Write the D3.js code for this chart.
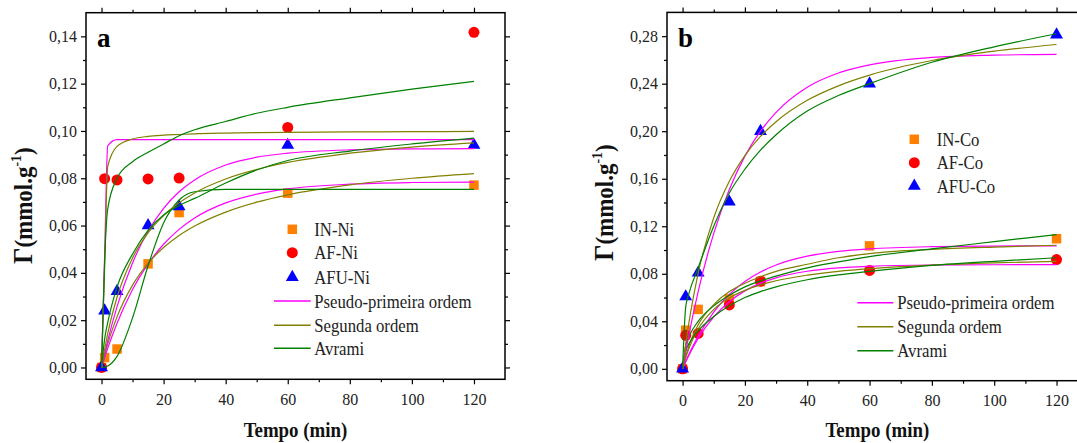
<!DOCTYPE html>
<html>
<head>
<meta charset="utf-8">
<script src="https://cdn.jsdelivr.net/npm/d3@7"></script>
<style>body { margin: 0; background: #fff; }</style>
</head>
<body>
<div id="chart"></div>
<script>
// measured points (Tempo in min, q in mmol/g)
var tData = [0, 1, 5, 15, 25, 60, 120];
var inNi  = [0, 0.0042, 0.0078, 0.0438, 0.0655, 0.0737, 0.0771];
var afNi  = [0, 0.0798, 0.0793, 0.0797, 0.0801, 0.1015, 0.1417];
var afuNi = [0, 0.0240, 0.0322, 0.0600, 0.0680, 0.0940, 0.0940];
var inCo  = [0, 0.0325, 0.0500, 0.0588, 0.0735, 0.1035, 0.1095];
var afCo  = [0, 0.0282, 0.0298, 0.0538, 0.0738, 0.0828, 0.0920];
var afuCo = [0, 0.0608, 0.0808, 0.1405, 0.2000, 0.2400, 0.2812];

// fitted curves at these times
var tFit = [0, 1, 2, 5, 10, 15, 20, 25, 30, 40, 50, 60, 80, 100, 120];
var pfoInNi  = [0, 0.0041, 0.0081, 0.0187, 0.0330, 0.0438, 0.0521, 0.0584, 0.0632, 0.0696, 0.0733, 0.0755, 0.0775, 0.0782, 0.0784];
var psoInNi  = [0, 0.0051, 0.0099, 0.0214, 0.0348, 0.0440, 0.0507, 0.0558, 0.0598, 0.0657, 0.0699, 0.0730, 0.0772, 0.0800, 0.0820];
var avrInNi  = [0, 0.0001, 0.0006, 0.0047, 0.0210, 0.0430, 0.0611, 0.0708, 0.0743, 0.0753, 0.0753, 0.0753, 0.0753, 0.0753, 0.0753];
var pfoAfNi  = [0, 0.0470, 0.0937, 0.0963, 0.0963, 0.0963, 0.0963, 0.0963, 0.0963, 0.0963, 0.0963, 0.0963, 0.0963, 0.0963, 0.0963];
var psoAfNi  = [0, 0.0425, 0.0850, 0.0935, 0.0966, 0.0977, 0.0982, 0.0985, 0.0988, 0.0991, 0.0993, 0.0994, 0.0996, 0.0997, 0.0998];
var avrAfNi  = [0, 0.0450, 0.0670, 0.0800, 0.0870, 0.0910, 0.0945, 0.0980, 0.1005, 0.1040, 0.1075, 0.1100, 0.1140, 0.1177, 0.1210];
var pfoAfuNi = [0, 0.0058, 0.0113, 0.0257, 0.0442, 0.0576, 0.0673, 0.0743, 0.0793, 0.0856, 0.0889, 0.0906, 0.0920, 0.0924, 0.0925];
var psoAfuNi = [0, 0.0076, 0.0143, 0.0297, 0.0463, 0.0569, 0.0642, 0.0696, 0.0738, 0.0797, 0.0837, 0.0867, 0.0906, 0.0932, 0.0950];
var avrAfuNi = [0, 0.0120, 0.0190, 0.0340, 0.0480, 0.0580, 0.0645, 0.0685, 0.0715, 0.0780, 0.0835, 0.0875, 0.0915, 0.0945, 0.0970];

var pfoInCo  = [0, 0.0062, 0.0121, 0.0276, 0.0478, 0.0627, 0.0735, 0.0815, 0.0874, 0.0948, 0.0988, 0.1010, 0.1028, 0.1033, 0.1035];
var psoInCo  = [0, 0.0100, 0.0190, 0.0370, 0.0540, 0.0650, 0.0720, 0.0775, 0.0820, 0.0880, 0.0935, 0.0970, 0.1005, 0.1025, 0.1040];
var avrInCo  = [0, 0.0200, 0.0270, 0.0400, 0.0530, 0.0620, 0.0690, 0.0740, 0.0780, 0.0850, 0.0900, 0.0945, 0.1010, 0.1070, 0.1130];
var pfoAfCo  = [0, 0.0058, 0.0113, 0.0256, 0.0437, 0.0565, 0.0656, 0.0721, 0.0766, 0.0821, 0.0849, 0.0863, 0.0874, 0.0876, 0.0877];
var psoAfCo  = [0, 0.0092, 0.0168, 0.0335, 0.0499, 0.0596, 0.0660, 0.0706, 0.0741, 0.0788, 0.0820, 0.0843, 0.0873, 0.0892, 0.0905];
var avrAfCo  = [0, 0.0150, 0.0210, 0.0320, 0.0440, 0.0530, 0.0600, 0.0650, 0.0690, 0.0750, 0.0790, 0.0820, 0.0870, 0.0905, 0.0935];
var pfoAfuCo = [0, 0.0145, 0.0282, 0.0650, 0.1140, 0.1510, 0.1790, 0.2000, 0.2159, 0.2370, 0.2490, 0.2559, 0.2621, 0.2640, 0.2647];
var psoAfuCo = [0, 0.0204, 0.0382, 0.0804, 0.1272, 0.1579, 0.1795, 0.1956, 0.2080, 0.2260, 0.2382, 0.2472, 0.2595, 0.2674, 0.2730];
var avrAfuCo = [0, 0.0520, 0.0630, 0.0850, 0.1200, 0.1480, 0.1680, 0.1840, 0.1970, 0.2170, 0.2300, 0.2400, 0.2580, 0.2710, 0.2820];

// axis ticks
var xTicks = [0, 20, 40, 60, 80, 100, 120];
var xMinor = [10, 30, 50, 70, 90, 110];
var yTicksA = [0, 0.02, 0.04, 0.06, 0.08, 0.10, 0.12, 0.14];
var yMinorA = [0.01, 0.03, 0.05, 0.07, 0.09, 0.11, 0.13];
var yTicksB = [0, 0.04, 0.08, 0.12, 0.16, 0.20, 0.24, 0.28];
var yMinorB = [0.02, 0.06, 0.10, 0.14, 0.18, 0.22, 0.26];

var fitNames = ["Pseudo-primeira ordem", "Segunda ordem", "Avrami"];
var fitColors = ["#ff00ff", "#808000", "#008000"];

var w = 1077,
    h = 443,
    font = "Liberation Serif",
    svg = d3.select("#chart")
            .append("svg")
            .attr("width", w)
            .attr("height", h);

var fmt = function(d) { return d3.format(".2f")(d).replace(".", ","); };

var symbols = [
    {type: d3.symbolSquare, size: 90, color: "#ff8000"},
    {type: d3.symbolCircle, size: 95, color: "#ff0000"},
    {type: d3.symbolTriangle, size: 72, color: "#0000ff"}
];

render_panel({
    left: 86, right: 505, top: 12.7, bottom: 379.3,
    yDomain: [-0.005, 0.15], yTicks: yTicksA, yMinor: yMinorA,
    letter: "a", labelX: 32, labelY: 264, titleY: 437,
    names: ["IN-Ni", "AF-Ni", "AFU-Ni"],
    data: [inNi, afNi, afuNi],
    fits: [[pfoInNi, psoInNi, avrInNi], [pfoAfNi, psoAfNi, avrAfNi], [pfoAfuNi, psoAfuNi, avrAfuNi]],
    legMarkX: 292.3, legMarkY: [229.3, 252.7, 277.3], legTextX: 314.3,
    legLineX: [274, 310.7], legLineY: [301, 325.3, 348.3], legLineTextX: 314.3
});

render_panel({
    left: 667, right: 1087.7, top: 12.4, bottom: 380.7,
    yDomain: [-0.01, 0.30], yTicks: yTicksB, yMinor: yMinorB,
    letter: "b", labelX: 613, labelY: 261, titleY: 437,
    names: ["IN-Co", "AF-Co", "AFU-Co"],
    data: [inCo, afCo, afuCo],
    fits: [[pfoInCo, psoInCo, avrInCo], [pfoAfCo, psoAfCo, avrAfCo], [pfoAfuCo, psoAfuCo, avrAfuCo]],
    legMarkX: 914.3, legMarkY: [139.3, 162.7, 186], legTextX: 936.7,
    legLineX: [857.3, 893.3], legLineY: [302.7, 326.7, 350.7], legLineTextX: 897.3
});

function render_panel(p) {
    var x = d3.scaleLinear().domain([-5, 130]).range([p.left, p.right]),
        y = d3.scaleLinear().domain(p.yDomain).range([p.bottom, p.top]),
        g = svg.append("g");

    // axes on all four sides, labels only left and bottom
    var axes = [
        {a: d3.axisBottom(x), t: "translate(0," + p.bottom + ")", major: xTicks, minor: xMinor, label: true},
        {a: d3.axisTop(x), t: "translate(0," + p.top + ")", major: xTicks, minor: xMinor, label: false},
        {a: d3.axisLeft(y), t: "translate(" + p.left + ",0)", major: p.yTicks, minor: p.yMinor, label: true},
        {a: d3.axisRight(y), t: "translate(" + p.right + ",0)", major: p.yTicks, minor: p.yMinor, label: false}
    ];
    axes.forEach(function(ax, i) {
        var major = g.append("g")
            .attr("transform", ax.t)
            .call(ax.a.tickValues(ax.major).tickSize(5).tickSizeOuter(0)
                .tickPadding(i == 0 ? 9 : 4)
                .tickFormat(ax.label ? (i == 0 ? d3.format("d") : fmt) : ""));
        major.attr("font-family", font).attr("font-size", 16).attr("color", "#000");
        major.selectAll("text").attr("fill", "#222");
        major.selectAll("line").attr("stroke-width", 1.2);
        major.select(".domain").remove();

        var minor = g.append("g")
            .attr("transform", ax.t)
            .call(ax.a.tickValues(ax.minor).tickSize(3).tickFormat(""));
        minor.attr("color", "#000");
        minor.selectAll("line").attr("stroke-width", 1.2);
        minor.select(".domain").remove();
    });

    // frame
    g.append("rect")
        .attr("x", p.left)
        .attr("y", p.top)
        .attr("width", p.right - p.left)
        .attr("height", p.bottom - p.top)
        .attr("fill", "none")
        .attr("stroke", "#000")
        .attr("stroke-width", 1.5);

    // measured points
    p.data.forEach(function(vals, s) {
        g.selectAll(null)
            .data(d3.zip(tData, vals))
            .enter()
            .append("path")
            .attr("transform", function(d) { return "translate(" + x(d[0]) + "," + y(d[1]) + ")"; })
            .attr("d", d3.symbol().type(symbols[s].type).size(symbols[s].size))
            .attr("fill", symbols[s].color);
    });

    // fitted curves over the points
    var line = d3.line()
        .x(function(d) { return x(d[0]); })
        .y(function(d) { return y(d[1]); })
        .curve(d3.curveMonotoneX);
    p.fits.forEach(function(set) {
        set.forEach(function(vals, m) {
            g.append("path")
                .datum(d3.zip(tFit, vals))
                .attr("fill", "none")
                .attr("stroke", fitColors[m])
                .attr("stroke-width", 1.2)
                .attr("d", line);
        });
    });

    // legend: symbols
    p.names.forEach(function(name, s) {
        g.append("path")
            .attr("transform", "translate(" + p.legMarkX + "," + p.legMarkY[s] + ")")
            .attr("d", d3.symbol().type(symbols[s].type).size(symbols[s].size))
            .attr("fill", symbols[s].color);
        legend_text(g, name, p.legTextX, p.legMarkY[s]);
    });

    // legend: fit lines
    fitNames.forEach(function(name, m) {
        g.append("line")
            .attr("x1", p.legLineX[0])
            .attr("x2", p.legLineX[1])
            .attr("y1", p.legLineY[m])
            .attr("y2", p.legLineY[m])
            .attr("stroke", fitColors[m])
            .attr("stroke-width", 1.4);
        legend_text(g, name, p.legLineTextX, p.legLineY[m]);
    });

    // panel letter
    g.append("text")
        .attr("x", p.left + 11)
        .attr("y", 47)
        .attr("font-family", font)
        .attr("font-weight", "bold")
        .attr("font-size", 27)
        .text(p.letter);

    // x title (narrow, tall lettering as in the original)
    g.append("text")
        .attr("transform", "translate(" + (p.left + p.right) / 2 + "," + p.titleY + ") scale(0.9,1)")
        .attr("text-anchor", "middle")
        .attr("font-family", font)
        .attr("font-weight", "bold")
        .attr("font-size", 21)
        .attr("fill", "#111")
        .text("Tempo (min)");

    // y title
    var yt = g.append("text")
        .attr("transform", "translate(" + p.labelX + "," + p.labelY + ") rotate(-90) scale(0.92,1)")
        .attr("font-family", font)
        .attr("font-weight", "bold")
        .attr("fill", "#111");
    yt.append("tspan").attr("font-size", 28).text("Γ");
    yt.append("tspan").attr("font-size", 25).text("(mmol.g");
    yt.append("tspan").attr("font-size", 15).attr("dy", -11).text("-1");
    yt.append("tspan").attr("font-size", 25).attr("dy", 11).text(")");
}

function legend_text(g, text, x, y) {
    return g.append("text")
        .attr("transform", "translate(" + x + "," + y + ") scale(0.88,1)")
        .attr("dy", "0.35em")
        .attr("font-family", font)
        .attr("font-size", 19)
        .attr("fill", "#222")
        .text(text);
}
</script>
</body>
</html>
